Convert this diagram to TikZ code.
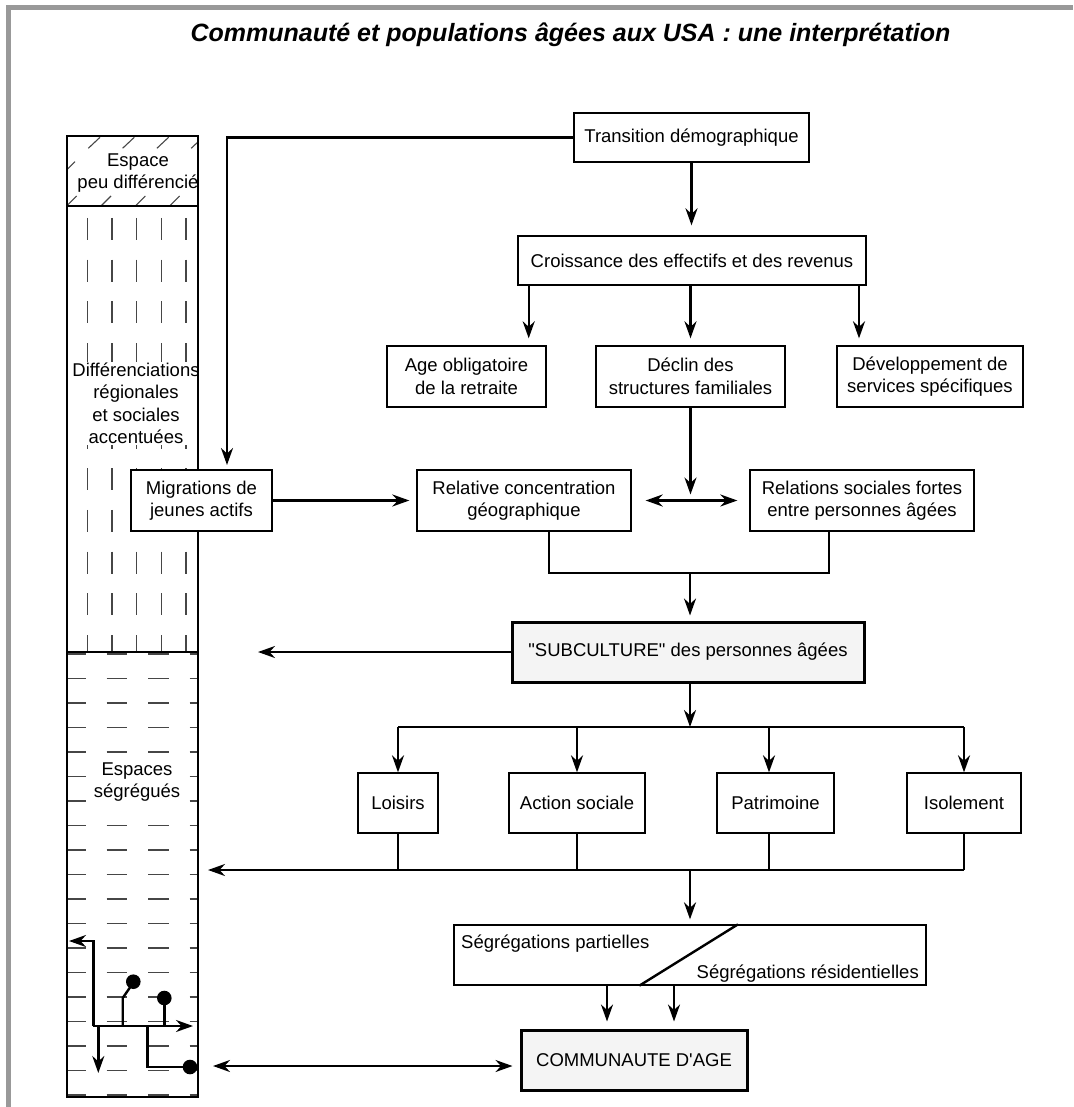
\documentclass[tikz,border=0pt]{standalone}
\usepackage{fontspec}
\setmainfont{Liberation Sans}
\usetikzlibrary{arrows.meta}
\definecolor{framegray}{RGB}{153,153,153}
\definecolor{boxfill}{RGB}{244,244,244}
\definecolor{patgray}{RGB}{70,70,70}
\begin{document}
\begin{tikzpicture}[x=1pt,y=-1pt,
  font=\fontsize{18.5}{22.5}\selectfont,
  >={Stealth[length=17pt,width=12pt,inset=5.5pt]},
  box/.style={draw, line width=1.3pt, fill=white, align=center, inner sep=0pt},
  bigbox/.style={box, line width=3pt, fill=boxfill},
  ln/.style={line width=2.4pt},
  arr/.style={ln,->},
  darr/.style={ln,<->},
  pat/.style={patgray, line width=1.1pt},
  lbl/.style={fill=white, inner sep=1pt, align=center}]
\useasboundingbox (0,0) rectangle (1073,1107);
% frame
\fill[framegray] (5.5,5.5) rectangle (1073,10.5);
\fill[framegray] (5.5,5.5) rectangle (10.5,1107);
% title
\node[anchor=base, inner sep=0pt, font=\fontsize{25}{29}\selectfont\bfseries\itshape] (title) at (570.5,42)
  {Communauté et populations âgées aux USA : une interprétation};
% left column patterns
\begin{scope}
\clip (67,136) rectangle (198,206);
\foreach \x in {54,88.3,122.6,156.9,191.2} \draw[pat] (\x,148.3) -- ++(11.7,-11);
\foreach \x in {63,97.3,131.6,165.9} \draw[pat] (\x,173.7) -- ++(12,-12);
\foreach \x in {64.7,99,133.3,167.6} \draw[pat] (\x,208) -- ++(12,-12);
\end{scope}
\begin{scope}
\clip (67,206) rectangle (198,652);
\foreach \r in {0,...,10} \foreach \x in {87.3,112,136.7,161.4,186} \draw[pat] (\x,218+41.7*\r) -- ++(0,22);
\end{scope}
\begin{scope}
\clip (67,652) rectangle (198,1097);
\foreach \r in {0,...,18} \foreach \x in {65,106.5,148,189.5} \draw[pat] (\x,654+24.5*\r) -- ++(20.6,0);
\end{scope}
\node[lbl] (lab1) at (138,173) {Espace\\peu différencié};
\node[lbl] (lab2) at (136,403.5) {Différenciations\\régionales\\et sociales\\accentuées};
\node[lbl] (lab3) at (137,782) {Espaces\\ségrégués};
\draw[line width=1.3pt] (67,136) rectangle (198,1097);
\draw[line width=1.3pt] (67,206) -- (198,206);
\draw[line width=1.3pt] (67,652) -- (198,652);
% small pictogram
\draw[arr] (93.3,1026) -- (93.3,941) -- (69,941);
\draw[arr] (93.3,1026) -- (193,1026);
\draw[arr] (98.3,1026) -- (98.3,1073);
\draw[ln] (122.7,1026) -- (122.7,998) -- (131,986);
\fill (133.3,981.7) circle[radius=7.3pt];
\draw[ln] (164.3,1026) -- (164.3,998);
\fill (164.3,998) circle[radius=7.3pt];
\draw[ln] (147.5,1026) -- (147.5,1067) -- (190,1067);
\fill (190,1067) circle[radius=7.3pt];
% boxes
\node[box, minimum width=235pt, minimum height=49pt] (trans) at (691.5,137.5) {Transition démographique};
\node[box, minimum width=348pt, minimum height=49pt] (crois) at (692,260.5) {Croissance des effectifs et des revenus};
\node[box, minimum width=159pt, minimum height=61pt] (age) at (466.5,376.5) {Age obligatoire\\de la retraite};
\node[box, minimum width=189pt, minimum height=61pt] (declin) at (690.5,376.5) {Déclin des\\structures familiales};
\node[box, minimum width=186pt, minimum height=61pt] (dev) at (930,376.5) {Développement de\\services spécifiques};
\node[box, minimum width=141pt, minimum height=61pt] (migr) at (201.5,500.5) {Migrations de\\jeunes actifs};
\node[box, minimum width=214pt, minimum height=61pt] (relat) at (524,500.5) {Relative concentration\\géographique};
\node[box, minimum width=224pt, minimum height=61pt] (relas) at (862,500.5) {Relations sociales fortes\\entre personnes âgées};
\node[bigbox, minimum width=352pt, minimum height=60pt] (sub) at (688,652) {\textquotedbl SUBCULTURE\textquotedbl{} des personnes âgées};
\node[box, minimum width=80pt, minimum height=60pt] (loisirs) at (398,803) {Loisirs};
\node[box, minimum width=136pt, minimum height=60pt] (action) at (577,803) {Action sociale};
\node[box, minimum width=117pt, minimum height=60pt] (patri) at (775.5,803) {Patrimoine};
\node[box, minimum width=114pt, minimum height=60pt] (isol) at (964,803) {Isolement};
\node[box, minimum width=472pt, minimum height=60pt] (segr) at (690,955) {};
\node[anchor=base west, inner sep=0pt] (sp) at (461,948) {Ségrégations partielles};
\node[anchor=base east, inner sep=0pt] (sr) at (919,978) {Ségrégations résidentielles};
\node[bigbox, minimum width=226pt, minimum height=60pt] (comm) at (634,1060) {COMMUNAUTE D\textquotesingle AGE};
% helper coordinates
\coordinate (mtop) at (227,465);
\coordinate (xa) at (528.7,0);
\coordinate (xd) at (859,0);
\coordinate (xr1) at (549,0);
\coordinate (xr2) at (829,0);
\coordinate (xp) at (769,0);
\coordinate (xs1) at (607,0);
\coordinate (xs2) at (674,0);
\coordinate (j1) at (690,573);
\coordinate (j2) at (690,727);
\coordinate (j3) at (690,870);
\coordinate (subL) at (258,652);
\coordinate (botL) at (208,870);
\coordinate (cL) at (213,1066);
% connectors
\draw[arr] (trans.west) -| (mtop);
\draw[arr, shorten >=10pt] (trans.south) -- (trans.south |- crois.north);
\draw[arr, shorten >=7pt] (crois.south -| xa) -- (age.north -| xa);
\draw[arr, shorten >=7pt] (crois.south -| declin.north) -- (declin.north);
\draw[arr, shorten >=7pt] (crois.south -| xd) -- (dev.north -| xd);
\draw[arr, shorten >=6pt] (declin.south) -- (declin.south |- relat.east);
\draw[arr, shorten >=7pt] (migr.east) -- (relat.west);
\draw[darr, shorten <=14pt, shorten >=12pt] (relat.east) -- (relas.west);
\draw[ln] (relat.south -| xr1) |- (j1) -| (relas.south -| xr2);
\draw[arr, shorten >=5pt] (j1) -- (j1 |- sub.north);
\draw[arr] (sub.west) -- (subL);
\draw[arr] (sub.south -| j2) -- (j2);
\draw[ln] (loisirs.north |- j2) -- (isol.north |- j2);
\draw[arr] (loisirs.north |- j2) -- (loisirs.north);
\draw[arr] (action.north |- j2) -- (action.north);
\draw[arr] (xp |- j2) -- (patri.north -| xp);
\draw[arr] (isol.north |- j2) -- (isol.north);
\draw[ln] (loisirs.south) -- (loisirs.south |- j3);
\draw[ln] (action.south) -- (action.south |- j3);
\draw[ln] (patri.south -| xp) -- (xp |- j3);
\draw[ln] (isol.south) -- (isol.south |- j3);
\draw[arr] (isol.south |- j3) -- (botL);
\draw[arr, shorten >=5pt] (j3) -- (j3 |- segr.north);
\draw[ln] ([xshift=284.6pt]segr.north west) -- ([xshift=186pt]segr.south west);
\draw[arr, shorten >=7pt] (segr.south -| xs1) -- (comm.north -| xs1);
\draw[arr, shorten >=7pt] (segr.south -| xs2) -- (comm.north -| xs2);
\draw[darr, shorten >=7pt] (cL) -- (comm.west |- cL);
\end{tikzpicture}
\end{document}
